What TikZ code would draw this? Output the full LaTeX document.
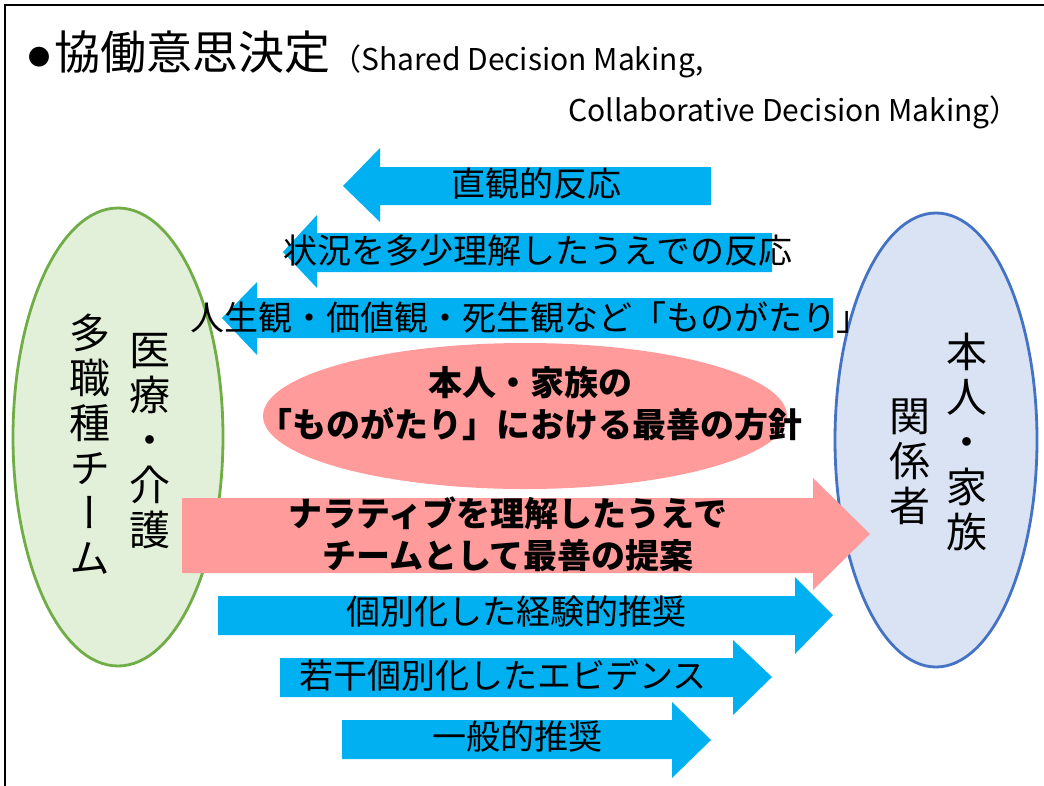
\documentclass[tikz,border=0pt]{standalone}
\usepackage{fontspec}
\setmainfont{Noto Sans CJK JP}
\newfontfamily\vfont[RawFeature=+vert]{Noto Sans CJK JP}
\definecolor{arrowblue}{HTML}{00B0F0}
\definecolor{pinkfill}{HTML}{FF9B9B}
\definecolor{greenfill}{HTML}{E2F0D9}
\definecolor{greenline}{HTML}{70AD47}
\definecolor{bluefill}{HTML}{DAE3F3}
\definecolor{blueline}{HTML}{4472C4}
\tikzset{
  bluearrow/.style={fill=arrowblue},
  pinkshape/.style={fill=pinkfill},
  lbl/.style={inner sep=0pt, anchor=center, font=\fontsize{34}{36}\selectfont},
  boldlbl/.style={inner sep=0pt, anchor=center, align=center, font=\fontsize{34}{42}\selectfont\bfseries},
  vcol/.style={inner sep=0pt, anchor=center, align=center, font=\vfont\fontsize{41}{45}\selectfont},
}
\begin{document}
\begin{tikzpicture}[x=1pt,y=-1pt]
\useasboundingbox (0,0) rectangle (1044,785);
\fill[white] (0,0) rectangle (1044,785);
\draw[line width=2pt] (5,790) -- (5,5) -- (1050,5);

% title
\node[inner sep=0pt, anchor=center, font=\fontsize{22}{24}\selectfont] (bullet) at (39,57) {●};
\node[inner sep=0pt, anchor=west, font=\fontsize{46}{50}\selectfont] (title) at (54,52) {協働意思決定};
\node[inner sep=0pt, anchor=base west, font=\fontsize{30}{32}\selectfont] (sub1) at (331,70) {（Shared Decision Making,};
\node[inner sep=0pt, anchor=base east, font=\fontsize{30}{32}\selectfont] (sub2) at (1020,121) {Collaborative Decision Making）};

% ellipses
\draw[fill=greenfill, draw=greenline, line width=2.8pt] (118,437) ellipse [x radius=105, y radius=229];
\draw[fill=bluefill, draw=blueline, line width=2.8pt] (936,440) ellipse [x radius=101, y radius=227];
\fill[pinkshape] (525,416) ellipse [x radius=262, y radius=73];

% left-pointing arrows
\fill[bluearrow] (711,167) -- (380,167) -- (380,148) -- (343,186) -- (380,222) -- (380,205) -- (711,205) -- cycle;
\fill[bluearrow] (772,233) -- (317,233) -- (317,215) -- (283,252) -- (317,288) -- (317,272) -- (772,272) -- cycle;
\fill[bluearrow] (833,298) -- (257,298) -- (257,282) -- (222,318) -- (257,355) -- (257,338) -- (833,338) -- cycle;

% right-pointing arrows
\fill[pinkshape] (182,498) -- (813,498) -- (813,478) -- (870,534) -- (813,590) -- (813,573) -- (182,573) -- cycle;
\fill[bluearrow] (218,596) -- (795,596) -- (795,577) -- (833,615) -- (795,654) -- (795,635) -- (218,635) -- cycle;
\fill[bluearrow] (280,658) -- (733,658) -- (733,640) -- (772,677) -- (733,715) -- (733,697) -- (280,697) -- cycle;
\fill[bluearrow] (342,720) -- (672,720) -- (672,702) -- (711,740) -- (672,778) -- (672,759) -- (342,759) -- cycle;

% arrow labels
\node[lbl] (a1) at (536,184) {直観的反応};
\node[lbl] (a2) at (538,251) {状況を多少理解したうえでの反応};
\node[lbl] (a3) at (530,318) {人生観・価値観・死生観など「ものがたり」};
\node[boldlbl] (p1) at (530,404) {本人・家族の\\「ものがたり」における最善の方針};
\node[boldlbl] (p2) at (508,534) {ナラティブを理解したうえで\\チームとして最善の提案};
\node[lbl] (b1) at (516,612) {個別化した経験的推奨};
\node[lbl] (b2) at (503,675) {若干個別化したエビデンス};
\node[lbl] (b3) at (517,737) {一般的推奨};

% vertical texts
\node[vcol] (team) at (90,444) {多\\職\\種\\チ\\ー\\ム};
\node[vcol] (care) at (150,441) {医\\療\\・\\介\\護};
\node[vcol] (self) at (967,442) {本\\人\\・\\家\\族};
\node[vcol] (rel) at (910,462) {関\\係\\者};
\end{tikzpicture}
\end{document}
